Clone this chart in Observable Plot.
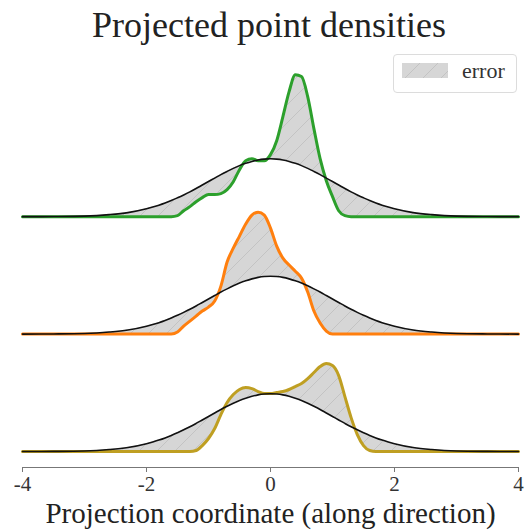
<!DOCTYPE html>
<html><head><meta charset="utf-8">
<script src="https://cdn.jsdelivr.net/npm/d3@7"></script>
<script src="https://cdn.jsdelivr.net/npm/@observablehq/plot@0.6"></script>
<style>
body{margin:0;background:#fff;}
#wrap{position:relative;width:531px;height:530px;overflow:hidden;background:#fff;}
#title{height:50px;line-height:50px;text-align:center;padding-left:7px;font-family:'Liberation Serif',serif;font-size:36px;color:#222;}
#legend{position:absolute;left:393px;top:54px;width:122px;height:37px;border:1px solid #dcdcdc;border-radius:4px;background:rgba(255,255,255,0.85);font-family:'Liberation Serif',serif;font-size:22px;color:#333;}
#legend svg{position:absolute;left:8px;top:8px;}
#legend span{position:absolute;left:68px;top:5px;line-height:22px;}
</style></head><body>
<div id="wrap">
<div id="title">Projected point densities</div>
<div id="chart"></div>
<div id="legend"><svg width="46" height="15"><defs><pattern id="hatchL" patternUnits="userSpaceOnUse" width="18" height="18"><rect width="18" height="18" fill="#d6d6d6"/><path d="M0,18 L18,0 M-4.5,4.5 L4.5,-4.5 M13.5,22.5 L22.5,13.5" stroke="#c3c3c3" stroke-width="1"/></pattern></defs><rect width="46" height="15" fill="url(#hatchL)"/></svg><span>error</span></div>
</div>
<script>
// grid of projection coordinates
const xs = [-4, -3.5, -3, -2.6, -2.3, -2.0, -1.9, -1.8, -1.7, -1.6, -1.5, -1.4, -1.3, -1.2, -1.1, -1.0, -0.9, -0.8, -0.7, -0.6, -0.5, -0.4, -0.3, -0.2, -0.1, 0, 0.1, 0.2, 0.3, 0.4, 0.5, 0.6, 0.7, 0.8, 0.9, 1.0, 1.1, 1.2, 1.3, 1.4, 1.5, 1.6, 1.7, 1.8, 1.9, 2.0, 2.3, 2.6, 3, 3.5, 4];

// reference (black) curve
const gaussian = [0.000, 0.001, 0.004, 0.014, 0.028, 0.054, 0.066, 0.079, 0.094, 0.111, 0.130, 0.150, 0.171, 0.194, 0.218, 0.242, 0.266, 0.290, 0.312, 0.333, 0.352, 0.368, 0.381, 0.391, 0.397, 0.399, 0.397, 0.391, 0.381, 0.368, 0.352, 0.333, 0.312, 0.290, 0.266, 0.242, 0.218, 0.194, 0.171, 0.150, 0.130, 0.111, 0.094, 0.079, 0.066, 0.054, 0.028, 0.014, 0.004, 0.001, 0.000];

// projected densities
const greenDensity = [0, 0, 0, 0, 0, 0, 0, 0, 0, 0, 0.007, 0.041, 0.069, 0.103, 0.131, 0.152, 0.152, 0.159, 0.186, 0.241, 0.324, 0.386, 0.400, 0.386, 0.386, 0.428, 0.524, 0.690, 0.862, 0.979, 0.966, 0.828, 0.607, 0.400, 0.248, 0.138, 0.041, 0.007, 0, 0, 0, 0, 0, 0, 0, 0, 0, 0, 0, 0, 0];
const orangeDensity = [0, 0, 0, 0, 0, 0, 0, 0, 0, 0, 0.014, 0.055, 0.090, 0.124, 0.159, 0.186, 0.228, 0.331, 0.497, 0.593, 0.676, 0.759, 0.821, 0.841, 0.821, 0.731, 0.607, 0.524, 0.476, 0.434, 0.386, 0.290, 0.159, 0.076, 0.021, 0, 0, 0, 0, 0, 0, 0, 0, 0, 0, 0, 0, 0, 0, 0, 0];
const oliveDensity = [0, 0, 0, 0, 0, 0, 0, 0, 0, 0, 0, 0, 0, 0.007, 0.041, 0.090, 0.159, 0.255, 0.338, 0.393, 0.428, 0.441, 0.434, 0.414, 0.400, 0.400, 0.407, 0.414, 0.428, 0.448, 0.469, 0.503, 0.545, 0.586, 0.607, 0.593, 0.524, 0.379, 0.234, 0.117, 0.041, 0.007, 0, 0, 0, 0, 0, 0, 0, 0, 0];

const ridgeNames = ["green", "orange", "olive"];
const ridgeColors = ["#2ca02c", "#ff7f0e", "#bf9f22"];
const xTicks = [-4, -2, 0, 2, 4];
const xLabel = "Projection coordinate (along direction)";

// layout constants
const gap = 0.81;       // vertical spacing between ridges (density units)
const yMin = -0.11, yMax = 2.628;

const densities = [greenDensity, orangeDensity, oliveDensity];
const rows = ridgeNames.flatMap((name, i) => {
  const level = ridgeNames.length - 1 - i;
  return xs.map((x, j) => ({
    ridge: name,
    x,
    g: level * gap + gaussian[j],
    d: level * gap + densities[i][j]
  }));
});

const curve = "monotone-x";
const plot = Plot.plot({
  width: 531,
  height: 480,
  marginLeft: 22,
  marginRight: 13,
  marginTop: 20,
  marginBottom: 63,
  style: {fontFamily: "'Liberation Serif', serif", color: "#333", background: "white", overflow: "visible"},
  x: {domain: [-4, 4]},
  y: {domain: [yMin, yMax], axis: null},
  marks: [
    Plot.areaY(rows, {x: "x", y1: "g", y2: "d", z: "ridge", fill: "url(#hatch)", curve}),
    ...ridgeNames.map((name, i) =>
      Plot.lineY(rows.filter(r => r.ridge === name), {x: "x", y: "d", stroke: ridgeColors[i], strokeWidth: 3, curve, strokeLinejoin: "round"})
    ),
    Plot.lineY(rows, {x: "x", y: "g", z: "ridge", stroke: "#111", strokeWidth: 1.6, curve}),
    Plot.ruleY([yMin], {stroke: "#777", strokeWidth: 1}),
    Plot.axisX({ticks: xTicks, tickFormat: d => String(d), tickSize: 5, tickPadding: 4, fontSize: 21, stroke: "#777", label: null}),
    Plot.text([xLabel], {text: d => d, frameAnchor: "bottom", dy: 55, lineAnchor: "bottom", fontSize: 29, fill: "#222"})
  ]
});

d3.select(plot).insert("defs", ":first-child").html(
  '<pattern id="hatch" patternUnits="userSpaceOnUse" width="18" height="18">' +
  '<rect width="18" height="18" fill="#d6d6d6"/>' +
  '<path d="M0,18 L18,0 M-4.5,4.5 L4.5,-4.5 M13.5,22.5 L22.5,13.5" stroke="#c3c3c3" stroke-width="1"/></pattern>'
);
document.getElementById("chart").appendChild(plot);
</script>
</body></html>
